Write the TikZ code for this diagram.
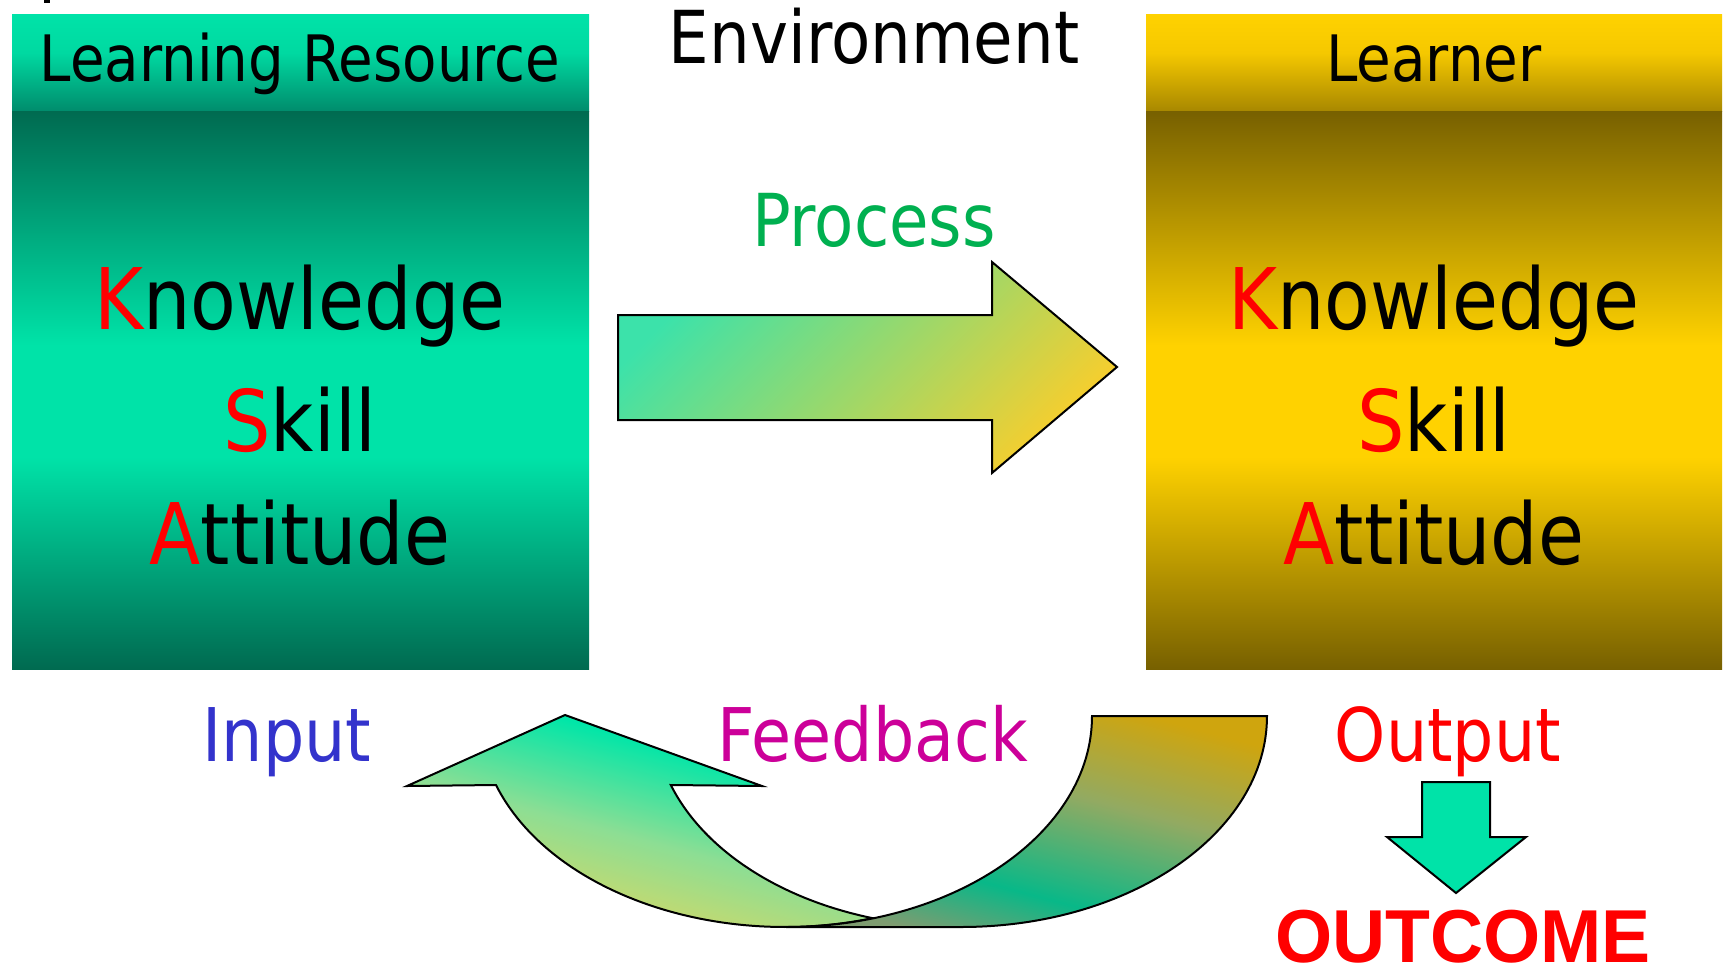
\documentclass[tikz,border=0pt]{standalone}
\usepackage{fontspec}
\setmainfont{DejaVu Sans}
\newfontfamily\arialfont{Liberation Sans}
\usepackage{graphicx}
\definecolor{tealB}{HTML}{00E3A8}
\definecolor{tealHB}{HTML}{00D9A1}
\definecolor{tealD}{HTML}{006A50}
\definecolor{tealH}{HTML}{008C6C}
\definecolor{goldB}{HTML}{FFD200}
\definecolor{goldHB}{HTML}{F5C800}
\definecolor{goldD}{HTML}{776000}
\definecolor{goldH}{HTML}{A88800}
\definecolor{hT}{HTML}{4EE2B2}
\definecolor{hB}{HTML}{00E6A8}
\definecolor{hM}{HTML}{8CDE94}
\definecolor{hY}{HTML}{D4D866}
\definecolor{tT}{HTML}{CFA50E}
\definecolor{tM}{HTML}{92AA62}
\definecolor{tB}{HTML}{08B888}
\definecolor{tY}{HTML}{7E9C70}
\definecolor{pG}{HTML}{3CE2AA}
\definecolor{pM}{HTML}{B4DA80}
\definecolor{pY}{HTML}{F6CE2E}
\definecolor{procgreen}{HTML}{00B050}
\definecolor{fbmag}{HTML}{CC0099}
\definecolor{inblue}{HTML}{3333CC}
\pgfdeclareverticalshading{lhead}{100bp}{color(0bp)=(tealH); color(25bp)=(tealH); color(55bp)=(tealHB); color(75bp)=(tealB); color(100bp)=(tealB)}
\pgfdeclareverticalshading{lbody}{100bp}{color(0bp)=(tealD); color(25bp)=(tealD); color(44bp)=(tealB); color(54bp)=(tealB); color(75bp)=(tealD); color(100bp)=(tealD)}
\pgfdeclareverticalshading{rhead}{100bp}{color(0bp)=(goldH); color(25bp)=(goldH); color(55bp)=(goldHB); color(75bp)=(goldB); color(100bp)=(goldB)}
\pgfdeclareverticalshading{rbody}{100bp}{color(0bp)=(goldD); color(25bp)=(goldD); color(44bp)=(goldB); color(54bp)=(goldB); color(75bp)=(goldD); color(100bp)=(goldD)}
\pgfdeclareverticalshading{headsh}{100bp}{color(0bp)=(hY); color(25bp)=(hY); color(33bp)=(hY); color(49bp)=(hM); color(66bp)=(hB); color(75bp)=(hT); color(100bp)=(hT)}
\pgfdeclareverticalshading{tailsh}{100bp}{color(0bp)=(tY); color(25bp)=(tY); color(37bp)=(tB); color(57bp)=(tM); color(75bp)=(tT); color(100bp)=(tT)}
\newcommand\cmpr[1]{\scalebox{0.88}[1]{#1}}
\newcommand\fsz[1]{\fontsize{#1}{#1}\selectfont}
\tikzset{
  txt/.style={inner sep=0pt, anchor=base},
  outl/.style={draw=black, line width=2pt, line join=miter},
}
\begin{document}
\begin{tikzpicture}[x=1pt,y=-1pt]
\useasboundingbox (0,0) rectangle (1725,972);
\fill[white] (0,0) rectangle (1725,972);
\fill[black] (44,0) rectangle (50,3);
% boxes
\shade[shading=lhead] (12,14) rectangle (589,111);
\shade[shading=lbody] (12,111) rectangle (589,669);
\shade[shading=rhead] (1146,14) rectangle (1722,111);
\shade[shading=rbody] (1146,111) rectangle (1722,669);
% process arrow
\shadedraw[outl, top color=pG, middle color=pM, bottom color=pY, shading angle=45]
  (618,315) -- (992,315) -- (992,262) -- (1117,367) -- (992,473) -- (992,420) -- (618,420) -- cycle;
% feedback arrow: head band (behind)
\shadedraw[outl, shading=headsh, shading angle=-15]
  (496,785) arc[start angle=160.9, end angle=73.4, x radius=306, y radius=211]
  arc[start angle=106.6, end angle=160.9, x radius=306, y radius=211]
  -- (762,786) -- (565,715) -- (407,786) -- cycle;
% feedback arrow: tail band (front)
\shadedraw[outl, shading=tailsh, shading angle=-15]
  (1267,716) arc[start angle=0, end angle=90, x radius=306, y radius=211]
  -- (786,927) arc[start angle=90, end angle=0, x radius=306, y radius=211] -- cycle;
% output arrow
\filldraw[outl, fill=tealB]
  (1422,782) -- (1490,782) -- (1490,837) -- (1526,837) -- (1456,893) -- (1387,837) -- (1422,837) -- cycle;
% texts
\node[txt, font=\fsz{64}] (lr) at (300,81) {\cmpr{Learning Resource}};
\node[txt, font=\fsz{64}] (learner) at (1434,81) {\cmpr{Learner}};
\node[txt, font=\fsz{73}] (env) at (874,63) {\cmpr{Environment}};
\node[txt, font=\fsz{73}, text=procgreen] (proc) at (874,246) {\cmpr{Process}};
\node[txt, font=\fsz{85}] (k1) at (300,329) {\cmpr{{\color{red}K}nowledge}};
\node[txt, font=\fsz{85}] (s1) at (300,451) {\cmpr{{\color{red}S}kill}};
\node[txt, font=\fsz{85}] (a1) at (300,564) {\cmpr{{\color{red}A}ttitude}};
\node[txt, font=\fsz{85}] (k2) at (1434,329) {\cmpr{{\color{red}K}nowledge}};
\node[txt, font=\fsz{85}] (s2) at (1434,451) {\cmpr{{\color{red}S}kill}};
\node[txt, font=\fsz{85}] (a2) at (1434,564) {\cmpr{{\color{red}A}ttitude}};
\node[txt, font=\fsz{74}, text=inblue] (input) at (287,761) {\cmpr{Input}};
\node[txt, font=\fsz{74}, text=fbmag] (feedback) at (873,761) {\cmpr{Feedback}};
\node[txt, font=\fsz{74}, text=red] (output) at (1448,761) {\cmpr{Output}};
\node[txt, font=\arialfont\bfseries\fsz{75}, text=red] (outcome) at (1463,962) {\scalebox{0.98}[1]{OUTCOME}};
\end{tikzpicture}
\end{document}
